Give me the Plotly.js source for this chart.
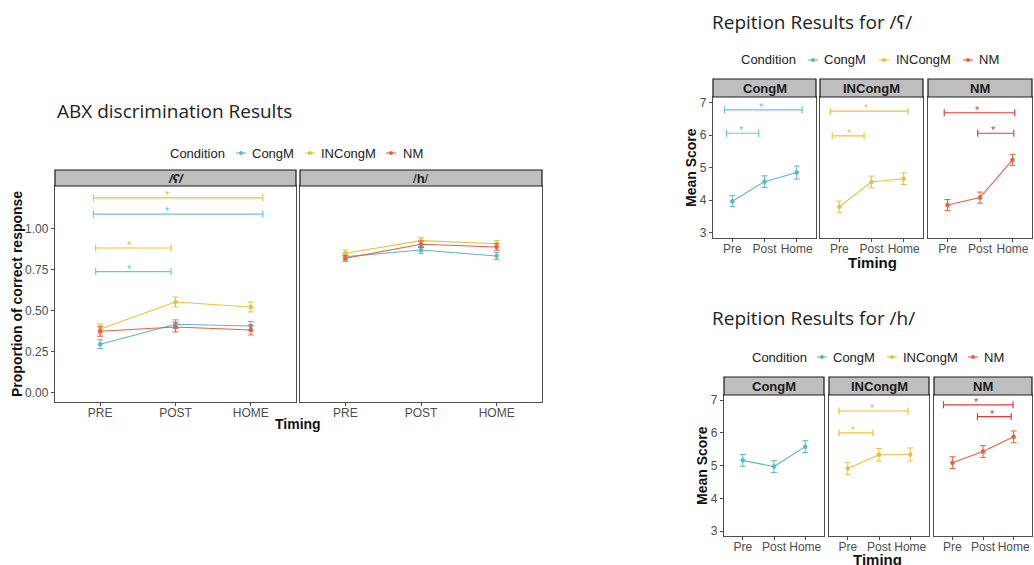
<!DOCTYPE html>
<html><head><meta charset="utf-8">
<script src="https://cdn.plot.ly/plotly-3.0.1.min.js"></script>
<style>html,body{margin:0;padding:0;background:#fff}#chart{width:1034px;height:565px}</style>
</head><body><div id="chart"></div>
<script>
const W = 1034, H = 565;

// ---------- DATA ----------
const timingABX = ['PRE', 'POST', 'HOME'];
const timingRep = ['Pre', 'Post', 'Home'];
const conditions = ['CongM', 'INCongM', 'NM'];

// ABX discrimination, /ʕ/
const abxAynCongM = [0.297, 0.419, 0.408];
const abxAynCongMErr = [0.027, 0.027, 0.028];
const abxAynINCongM = [0.390, 0.555, 0.524];
const abxAynINCongMErr = [0.030, 0.030, 0.030];
const abxAynNM = [0.376, 0.402, 0.384];
const abxAynNMErr = [0.030, 0.030, 0.030];

// ABX discrimination, /h/
const abxHCongM = [0.831, 0.872, 0.835];
const abxHCongMErr = [0.020, 0.020, 0.022];
const abxHINCongM = [0.852, 0.929, 0.910];
const abxHINCongMErr = [0.020, 0.020, 0.020];
const abxHNM = [0.821, 0.907, 0.890];
const abxHNMErr = [0.018, 0.020, 0.020];

// Repetition, /ʕ/
const repAynCongM = [3.97, 4.57, 4.85];
const repAynCongMErr = [0.17, 0.18, 0.20];
const repAynINCongM = [3.80, 4.56, 4.66];
const repAynINCongMErr = [0.17, 0.18, 0.18];
const repAynNM = [3.85, 4.08, 5.24];
const repAynNMErr = [0.17, 0.17, 0.17];

// Repetition, /h/
const repHCongM = [5.16, 4.97, 5.58];
const repHCongMErr = [0.18, 0.18, 0.18];
const repHINCongM = [4.91, 5.33, 5.34];
const repHINCongMErr = [0.19, 0.19, 0.20];
const repHNM = [5.09, 5.43, 5.88];
const repHNMErr = [0.18, 0.18, 0.18];

// Significance brackets: [from, to, height, star position]
const sigAbxAyn = [
  {cond: 'INCongM', from: 0.91, to: 3.16, y: 1.19, star: 1.90},
  {cond: 'CongM',   from: 0.91, to: 3.16, y: 1.09, star: 1.90},
  {cond: 'INCongM', from: 0.94, to: 1.94, y: 0.884, star: 1.39},
  {cond: 'CongM',   from: 0.94, to: 1.94, y: 0.74, star: 1.39}
];
const sigRepAyn = [
  {cond: 'CongM',   from: 0.76, to: 3.17, y: 6.78, star: 1.91},
  {cond: 'CongM',   from: 0.82, to: 1.82, y: 6.06, star: 1.28},
  {cond: 'INCongM', from: 0.72, to: 3.13, y: 6.74, star: 1.85},
  {cond: 'INCongM', from: 0.78, to: 1.77, y: 5.98, star: 1.31},
  {cond: 'NM',      from: 0.90, to: 3.07, y: 6.69, star: 1.93},
  {cond: 'NM',      from: 1.93, to: 3.04, y: 6.06, star: 2.42}
];
const sigRepH = [
  {cond: 'INCongM', from: 0.72, to: 2.93, y: 6.67, star: 1.79},
  {cond: 'INCongM', from: 0.72, to: 1.81, y: 6.00, star: 1.19},
  {cond: 'NM',      from: 0.71, to: 2.98, y: 6.86, star: 1.79},
  {cond: 'NM',      from: 1.82, to: 2.92, y: 6.50, star: 2.32}
];

// ---------- STYLE ----------
const lineColor = {CongM: '#5DB6C6', INCongM: '#E6C23C', NM: '#E5613F'};
const sigColor = {CongM: '#6DBEEC', INCongM: '#EEC23A', NM: '#E23B3B'};
const FONT = 'Liberation Sans, Arial, sans-serif';
const TFONT = 'Open Sans, Noto Sans, sans-serif';

const px = v => v / W;
const py = v => 1 - v / H;

const traces = [];
const annotations = [];
const shapes = [];
function series(ax, labels, vals, errs, cond) {
  const c = lineColor[cond];
  traces.push({
    type: 'scatter', mode: 'lines+markers',
    x: labels.map((_, i) => i + 1), y: vals,
    error_y: {type: 'data', array: errs, visible: true, color: c, thickness: 1, width: 3},
    line: {color: c, width: 1.1}, marker: {color: c, size: 4.5},
    xaxis: 'x' + ax, yaxis: 'y' + ax, name: cond, showlegend: false,
    hoverinfo: 'x+y+name'
  });
}
function sig(ax, list, filter) {
  list.filter(s => !filter || s.cond === filter).forEach(s => {
    const c = sigColor[s.cond];
    traces.push({
      type: 'scatter', mode: 'lines+markers', x: [s.from, s.to], y: [s.y, s.y],
      line: {color: c, width: 1.2}, marker: {symbol: 'line-ns', size: 5, color: c, line: {color: c, width: 1.2}},
      xaxis: 'x' + ax, yaxis: 'y' + ax, showlegend: false, hoverinfo: 'skip'
    });
    annotations.push({xref: 'x' + ax, yref: 'y' + ax, x: s.star, y: s.y, text: '*', showarrow: false,
      xanchor: 'center', yanchor: 'middle', yshift: 3, font: {color: c, size: 11, family: FONT}});
  });
}

// Left chart: ABX
const abxAyn = {CongM: [abxAynCongM, abxAynCongMErr], INCongM: [abxAynINCongM, abxAynINCongMErr], NM: [abxAynNM, abxAynNMErr]};
const abxH = {CongM: [abxHCongM, abxHCongMErr], INCongM: [abxHINCongM, abxHINCongMErr], NM: [abxHNM, abxHNMErr]};
sig('', sigAbxAyn);
conditions.forEach(c => series('', timingABX, abxAyn[c][0], abxAyn[c][1], c));
conditions.forEach(c => series('2', timingABX, abxH[c][0], abxH[c][1], c));

// Right charts: repetition
const repAyn = {CongM: [repAynCongM, repAynCongMErr], INCongM: [repAynINCongM, repAynINCongMErr], NM: [repAynNM, repAynNMErr]};
const repH = {CongM: [repHCongM, repHCongMErr], INCongM: [repHINCongM, repHINCongMErr], NM: [repHNM, repHNMErr]};
conditions.forEach((c, i) => {
  const ax = String(3 + i);
  sig(ax, sigRepAyn, c);
  series(ax, timingRep, repAyn[c][0], repAyn[c][1], c);
});
conditions.forEach((c, i) => {
  const ax = String(6 + i);
  sig(ax, sigRepH, c);
  series(ax, timingRep, repH[c][0], repH[c][1], c);
});

// ---------- LAYOUT ----------
const layout = {
  width: W, height: H, margin: {l: 0, r: 0, t: 0, b: 0, autoexpand: false},
  paper_bgcolor: '#fff', plot_bgcolor: '#fff',
  font: {family: FONT, color: '#222'},
  showlegend: false, shapes: shapes, annotations: annotations
};

function xax(x0, x1, labels, anchor, standoff) {
  return {domain: [px(x0), px(x1)], range: [0.4, 3.6], anchor: anchor,
    tickvals: labels.map((_, i) => i + 1), ticktext: labels, tickangle: 0,
    ticklabelstandoff: standoff,
    showgrid: false, zeroline: false, showline: true, mirror: true, automargin: false,
    linecolor: '#4d4d4d', linewidth: 1.2, ticks: 'outside', ticklen: 3, tickcolor: '#4d4d4d',
    tickfont: {size: 12, color: '#4d4d4d', family: FONT}, fixedrange: true};
}
function yax(y0, y1, range, anchor, labels, tickvals, fmt) {
  return {domain: [py(y1), py(y0)], range: range, anchor: anchor,
    tickvals: tickvals, tickformat: fmt, automargin: false,
    showticklabels: labels, ticks: labels ? 'outside' : '', ticklen: 3, tickcolor: '#4d4d4d',
    showgrid: false, zeroline: false, showline: true, mirror: true,
    linecolor: '#4d4d4d', linewidth: 1.2,
    tickfont: {size: 12, color: '#4d4d4d', family: FONT}, fixedrange: true};
}

const abxTicks = [0, 0.25, 0.5, 0.75, 1];
const repTicks = [3, 4, 5, 6, 7];
const panels = [
  ['', 55, 296, 186, 402, [-0.055, 1.262], timingABX, true, abxTicks, '.2f', '<b><i>/ʕ/</i></b>', 170, -4],
  ['2', 300, 542, 186, 402, [-0.055, 1.262], timingABX, false, abxTicks, '.2f', '/<b>h</b>/', 170, -4],
  ['3', 713, 816, 97, 238, [2.837, 7.175], timingRep, true, repTicks, 'd', '<b>CongM</b>', 79, -4],
  ['4', 820, 923, 97, 238, [2.837, 7.175], timingRep, false, repTicks, 'd', '<b>INCongM</b>', 79, -4],
  ['5', 928, 1032, 97, 238, [2.837, 7.175], timingRep, false, repTicks, 'd', '<b>NM</b>', 79, -4],
  ['6', 724, 824, 395, 536, [2.847, 7.159], timingRep, true, repTicks, 'd', '<b>CongM</b>', 377, -4],
  ['7', 829, 929, 395, 536, [2.847, 7.159], timingRep, false, repTicks, 'd', '<b>INCongM</b>', 377, -4],
  ['8', 934, 1032, 395, 536, [2.847, 7.159], timingRep, false, repTicks, 'd', '<b>NM</b>', 377, -4]
];
panels.forEach(p => {
  const [id, x0, x1, y0, y1, range, labels, ylab, tv, fmt, strip, sy0, so] = p;
  layout['xaxis' + id] = xax(x0, x1, labels, 'y' + id, so);
  layout['yaxis' + id] = yax(y0, y1, range, 'x' + id, ylab, tv, fmt);
  shapes.push({type: 'rect', xref: 'paper', yref: 'paper',
    x0: px(x0), x1: px(x1), y0: py(y0), y1: py(sy0),
    fillcolor: '#BEBEBE', line: {color: '#1a1a1a', width: 1.2}});
  annotations.push({xref: 'paper', yref: 'paper', x: px((x0 + x1) / 2), y: py((sy0 + y0) / 2),
    text: strip, showarrow: false, xanchor: 'center', yanchor: 'middle',
    font: {size: 13, color: '#1a1a1a', family: FONT}});
});

function ann(text, x, y, size, opts) {
  annotations.push(Object.assign({xref: 'paper', yref: 'paper', x: px(x), y: py(y), text: text,
    showarrow: false, xanchor: 'center', yanchor: 'middle', font: {size: size, color: '#111', family: FONT}}, opts || {}));
}
// Titles
const tfont = {size: 19, color: '#222', family: TFONT};
ann('ABX discrimination Results', 55, 111, 19, {xanchor: 'left', font: tfont});
ann('Repition Results for /<span style="font-family:DejaVu Sans;font-size:17px">ʕ</span>/', 710, 22, 19, {xanchor: 'left', font: tfont});
ann('Repition Results for /h/', 710, 318, 19, {xanchor: 'left', font: tfont});
// Axis titles
ann('<b>Proportion of correct response</b>', 17, 294, 14, {textangle: -90});
ann('<b>Timing</b>', 298, 424, 14);
ann('<b>Mean Score</b>', 691, 168, 14, {textangle: -90});
ann('<b>Timing</b>', 872, 263, 15);
ann('<b>Mean Score</b>', 702, 466, 14, {textangle: -90});
ann('<b>Timing</b>', 877, 559, 15);

// Legends (ggplot-style: title, then short line+dot key and label per condition)
const legends = [
  {y: 153, title: 171, keys: [241, 310, 391], labels: [253, 322, 404]},
  {y: 60, title: 742, keys: [813, 884, 968], labels: [825, 897, 980]},
  {y: 357, title: 753, keys: [822, 892, 973], labels: [834, 904, 985]}
];
legends.forEach(L => {
  ann('Condition', L.title - 3, L.y, 13, {xanchor: 'left', font: {size: 13, color: '#222', family: FONT}});
  conditions.forEach((c, i) => {
    const k = L.keys[i];
    shapes.push({type: 'line', xref: 'paper', yref: 'paper', x0: px(k - 5), x1: px(k + 5), y0: py(L.y), y1: py(L.y),
      line: {color: lineColor[c], width: 1.1}});
    shapes.push({type: 'circle', xref: 'paper', yref: 'paper', x0: px(k - 2), x1: px(k + 2), y0: py(L.y - 2), y1: py(L.y + 2),
      fillcolor: lineColor[c], line: {color: lineColor[c], width: 0}});
    ann(c, L.labels[i] - 3, L.y, 13, {xanchor: 'left', font: {size: 13, color: '#222', family: FONT}});
  });
});

Plotly.newPlot('chart', traces, layout, {displayModeBar: false, staticPlot: true});
</script></body></html>
